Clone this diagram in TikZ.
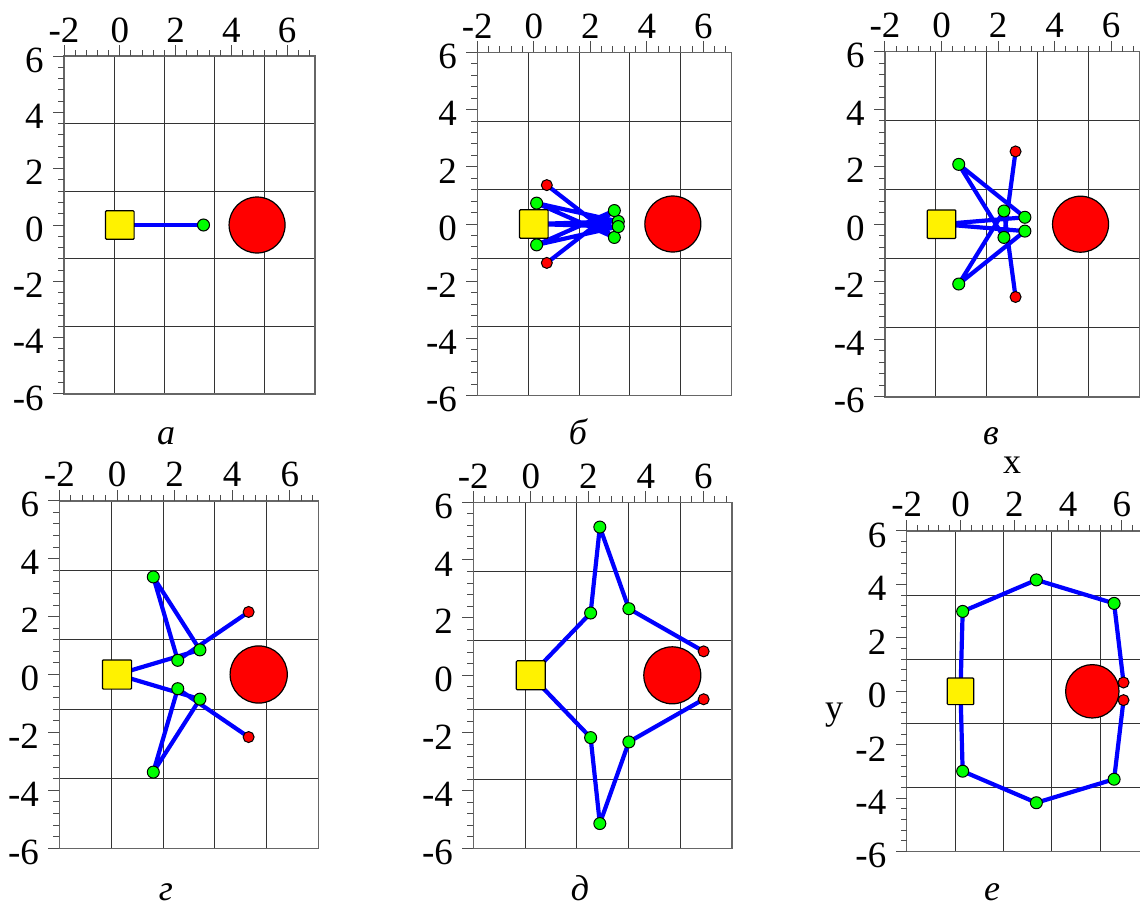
\documentclass[tikz,border=0pt]{standalone}
\usepackage{fontspec}
\setmainfont{Liberation Serif}
\newfontfamily\ticknum{Liberation Serif}
\usetikzlibrary{backgrounds}

\begin{document}
\begin{tikzpicture}[x=0.5pt,y=-0.5pt,font=\fontsize{18}{20}\selectfont]
  \tikzset{
    axframe/.style={draw=black!60,line width=0.75pt},
    gridline/.style={draw=black!80,line width=0.5pt},
    tickmark/.style={draw=black!70,line width=0.5pt},
    ticklbl/.style={inner sep=0pt,font=\ticknum\fontsize{18.5}{20}\selectfont},
    caption/.style={anchor=base,inner sep=0pt,font=\fontsize{18}{20}\selectfont\itshape},
    link/.style={draw=blue,line width=2.1pt,line cap=round,line join=round},
    basebox/.style={draw,line width=0.6pt,fill=yellow,rounded corners=0.5pt,minimum size=14.3pt,inner sep=0pt},
    joint/.style={circle,draw,line width=0.5pt,fill=green,minimum size=6pt,inner sep=0pt},
    endpt/.style={circle,draw,line width=0.5pt,fill=red,minimum size=5.5pt,inner sep=0pt},
    obst/.style={circle,draw,line width=0.6pt,fill=red,minimum size=28pt,inner sep=0pt},
    pa/.style={shift={(119.8,225)},x=13.95pt,y=14.08pt},
    pb/.style={shift={(533.8,224)},x=14.13pt,y=14.3pt},
    pc/.style={shift={(941.5,224.2)},x=14.13pt,y=14.38pt},
    pd/.style={shift={(117,674.5)},x=14.4pt,y=14.48pt},
    pe/.style={shift={(530.8,675.3)},x=14.38pt,y=14.42pt},
    pf/.style={shift={(960.5,691.3)},x=13.45pt,y=13.36pt}
  }
  \useasboundingbox (0,0) rectangle (1140,906);
  % axes, grid and captions of the six panels
  \foreach \p/\cx/\cy/\cap [count=\i] in
     {pa/166/444/а, pb/578/444/б, pc/991/444/в, pd/166/900/г, pe/580/900/д, pf/992/900/е}{
    \begin{scope}[\p]
      \begin{scope}[on background layer]
        \foreach \g in {-0.2,1.6,3.4,5.2} \draw[gridline] (\g,-6) -- (\g,6);
        \foreach \g in {-3.6,-1.2,1.2,3.6} \draw[gridline] (-2,\g) -- (7,\g);
        \draw[axframe] (-2,-6) rectangle (7,6);
        \foreach \t in {-2,-1.6,...,6.9} \draw[tickmark] (\t,6) -- ++(0pt,3pt);
        \foreach \t in {-6,-5.6,...,6.1} \draw[tickmark] (-2,\t) -- ++(-3pt,0pt);
        \foreach \t in {-2,0,...,6} \draw[tickmark] (\t,6) -- ++(0pt,5.5pt);
        \foreach \t in {-6,-4,...,6} \draw[tickmark] (-2,\t) -- ++(-5.5pt,0pt);
      \end{scope}
      \foreach \v/\lbl [count=\k] in {-2/-2,0/0,2/2,4/4,6/6}
        \node[ticklbl,anchor=base] (xt\i\k) at ([yshift=7pt]\v,6) {\lbl};
      \foreach \v/\lbl [count=\k] in {-6/-6,-4/-4,-2/-2,0/0,2/2,4/4,6/6}
        \node[ticklbl,anchor=east] (yt\i\k) at ([xshift=-10pt,yshift=-2pt]-2,\v) {\lbl};
    \end{scope}
    \node[caption] (cap\i) at (\cx,\cy) {\cap};
  }
  \node[anchor=base,inner sep=0pt] (xlab) at (1012,473) {x};
  \node[anchor=base,inner sep=0pt] (ylab) at (834,719) {y};

  % a
  \begin{scope}[pa]
    \node[obst] (oa) at (4.92,0) {};
    \node[basebox] (ba) at (0,0) {};
    \node[joint] (a1) at (3,0) {};
    \begin{scope}[on background layer]
      \draw[link] (ba.center) -- (a1.center);
    \end{scope}
  \end{scope}

  % b
  \begin{scope}[pb]
    \node[obst] (ob) at (4.92,0) {};
    \node[basebox] (bb) at (0,0) {};
    \foreach \n/\m in {u/1,d/-1}{
      \node[joint] (b\n1) at (2.99,\m*0.09) {};
      \node[joint] (b\n2) at (0.1,\m*0.73) {};
      \node[joint] (b\n3) at (2.85,-\m*0.47) {};
      \node[endpt] (b\n4) at (0.46,\m*1.36) {};
      \begin{scope}[on background layer]
        \draw[link] (bb.center) -- (b\n1.center) -- (b\n2.center) -- (b\n3.center) -- (b\n4.center);
      \end{scope}
    }
  \end{scope}

  % c
  \begin{scope}[pc]
    \node[obst] (oc) at (4.92,0) {};
    \node[basebox] (bc) at (0,0) {};
    \foreach \n/\m in {u/1,d/-1}{
      \node[joint] (c\n1) at (2.95,\m*0.24) {};
      \node[joint] (c\n2) at (0.61,\m*2.08) {};
      \node[joint] (c\n3) at (2.21,-\m*0.46) {};
      \node[endpt] (c\n4) at (2.62,\m*2.53) {};
      \begin{scope}[on background layer]
        \draw[link] (bc.center) -- (c\n1.center) -- (c\n2.center) -- (c\n3.center) -- (c\n4.center);
      \end{scope}
    }
  \end{scope}

  % d
  \begin{scope}[pd]
    \node[obst,minimum size=28.6pt] (od) at (4.92,0) {};
    \node[basebox,minimum size=14.6pt] (bd) at (0,0) {};
    \foreach \n/\m in {u/1,d/-1}{
      \node[joint] (d\n1) at (2.88,\m*0.85) {};
      \node[joint] (d\n2) at (1.26,\m*3.37) {};
      \node[joint] (d\n3) at (2.11,\m*0.49) {};
      \node[endpt] (d\n4) at (4.57,\m*2.16) {};
      \begin{scope}[on background layer]
        \draw[link] (bd.center) -- (d\n1.center) -- (d\n2.center) -- (d\n3.center) -- (d\n4.center);
      \end{scope}
    }
  \end{scope}

  % e
  \begin{scope}[pe]
    \node[obst,minimum size=28.5pt] (oe) at (4.92,0) {};
    \node[basebox,minimum size=14.5pt] (be) at (0,0) {};
    \foreach \n/\m in {u/1,d/-1}{
      \node[joint] (e\n1) at (2.08,\m*2.16) {};
      \node[joint] (e\n2) at (2.40,\m*5.14) {};
      \node[joint] (e\n3) at (3.41,\m*2.31) {};
      \node[endpt] (e\n4) at (6.01,\m*0.83) {};
      \begin{scope}[on background layer]
        \draw[link] (be.center) -- (e\n1.center) -- (e\n2.center) -- (e\n3.center) -- (e\n4.center);
      \end{scope}
    }
  \end{scope}

  % f
  \begin{scope}[pf]
    \node[obst,minimum size=26.7pt] (of) at (4.9,0) {};
    \node[basebox,minimum size=13.3pt] (bf) at (0,0) {};
    \foreach \n/\m in {u/1,d/-1}{
      \node[joint] (f\n1) at (0.08,\m*2.99) {};
      \node[joint] (f\n2) at (2.82,\m*4.17) {};
      \node[joint] (f\n3) at (5.71,\m*3.29) {};
      \node[endpt] (f\n4) at (6.06,\m*0.33) {};
      \begin{scope}[on background layer]
        \draw[link] (bf.center) -- (f\n1.center) -- (f\n2.center) -- (f\n3.center) -- (f\n4.center);
      \end{scope}
    }
  \end{scope}
\end{tikzpicture}
\end{document}
